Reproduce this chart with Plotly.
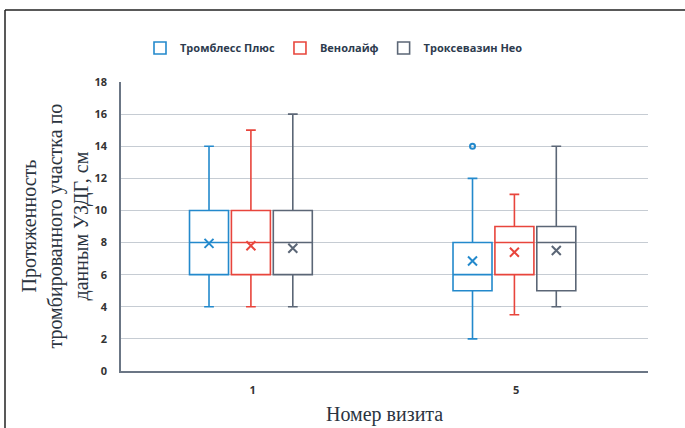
import plotly.graph_objects as go

# ---- data ----
visits = ["1", "5"]
series = ["Тромблесс Плюс", "Венолайф", "Троксевазин Нео"]
colors = ["#2389cc", "#e8453c", "#5b6676"]

q1 = [[6, 5], [6, 6], [6, 5]]
median = [[8, 6], [8, 8], [8, 8]]
q3 = [[10, 8], [10, 9], [10, 9]]
lower = [[4, 2], [4, 3.5], [4, 4]]
upper = [[14, 12], [15, 11], [16, 14]]
means = [[7.95, 6.85], [7.8, 7.4], [7.65, 7.5]]
# outliers: (series index, visit index, value)
outliers = [(0, 1, 14)]

box_w = 0.148
spacing = 0.159
shift = -0.007

def pos(si, vi):
    return vi + (si - 1) * spacing + shift

fig = go.Figure()
for si, name in enumerate(series):
    xs = [pos(si, vi) for vi in range(len(visits))]
    fig.add_trace(go.Box(
        name=name, x=xs,
        q1=q1[si], median=median[si], q3=q3[si],
        lowerfence=lower[si], upperfence=upper[si],
        width=box_w, whiskerwidth=0.25,
        boxpoints=False,
        line=dict(color=colors[si], width=1.6),
        fillcolor="rgba(255,255,255,0)",
        hoverinfo="skip",
    ))
    fig.add_trace(go.Scatter(
        x=xs, y=means[si], mode="markers", showlegend=False,
        marker=dict(symbol="x-thin", size=9, color=colors[si],
                    line=dict(color=colors[si], width=2)),
        hoverinfo="skip",
    ))

for si, vi, val in outliers:
    fig.add_trace(go.Scatter(
        x=[pos(si, vi)], y=[val], mode="markers", showlegend=False,
        marker=dict(symbol="circle-open", size=5, color=colors[si],
                    line=dict(color=colors[si], width=2)),
        hoverinfo="skip",
    ))

L, R, T, B = 121, 37, 82, 57
W, H = 685, 428
pw, ph = W - L - R, H - T - B

def px_x(x):
    return (x - L) / pw

def px_y(y):
    return (H - B - y) / ph

fig.update_layout(
    width=W, height=H,
    margin=dict(l=L, r=R, t=T, b=B, autoexpand=False),
    paper_bgcolor="white", plot_bgcolor="white",
    showlegend=True,
    legend=dict(orientation="h", x=px_x(334), y=px_y(48),
                xanchor="center", yanchor="middle",
                font=dict(family="Open Sans", size=11, color="#2d3b4e", weight="bold"),
                itemwidth=30, tracegroupgap=0, bgcolor="rgba(0,0,0,0)"),
    xaxis=dict(range=[-0.5, 1.5], tickmode="array",
               tickvals=list(range(len(visits))), ticktext=visits,
               showgrid=False, zeroline=False, automargin=False,
               showline=True, linecolor="#6b7685", linewidth=1.5,
               tickfont=dict(family="Open Sans", size=11, color="#333333", weight="bold"),
               ticklabelstandoff=8),
    yaxis=dict(range=[0, 18], dtick=2, automargin=False,
               showgrid=True, gridcolor="#c6ccd3", gridwidth=1,
               zeroline=False,
               showline=True, linecolor="#6b7685", linewidth=1.5,
               tickfont=dict(family="Open Sans", size=11, color="#333333", weight="bold"),
               ticklabelstandoff=10),
    annotations=[
        dict(text="Протяженность<br>тромбированного участка по<br>данным УЗДГ, см",
             x=px_x(55), y=0.5, xref="paper", yref="paper",
             xanchor="center", yanchor="middle", textangle=-90, showarrow=False,
             font=dict(family="Liberation Serif", size=20, color="#2b3440")),
        dict(text="Номер визита",
             x=0.5, y=px_y(414), xref="paper", yref="paper",
             xanchor="center", yanchor="middle", showarrow=False,
             font=dict(family="Liberation Serif", size=20, color="#2b3440")),
    ],
    shapes=[
        dict(type="line", xref="paper", yref="paper",
             x0=px_x(5), x1=px_x(700), y0=px_y(10), y1=px_y(10),
             line=dict(color="#222222", width=1.5)),
        dict(type="line", xref="paper", yref="paper",
             x0=px_x(5), x1=px_x(5), y0=px_y(10), y1=px_y(440),
             line=dict(color="#222222", width=1.5)),
    ],
)

fig.write_html("out.html")
